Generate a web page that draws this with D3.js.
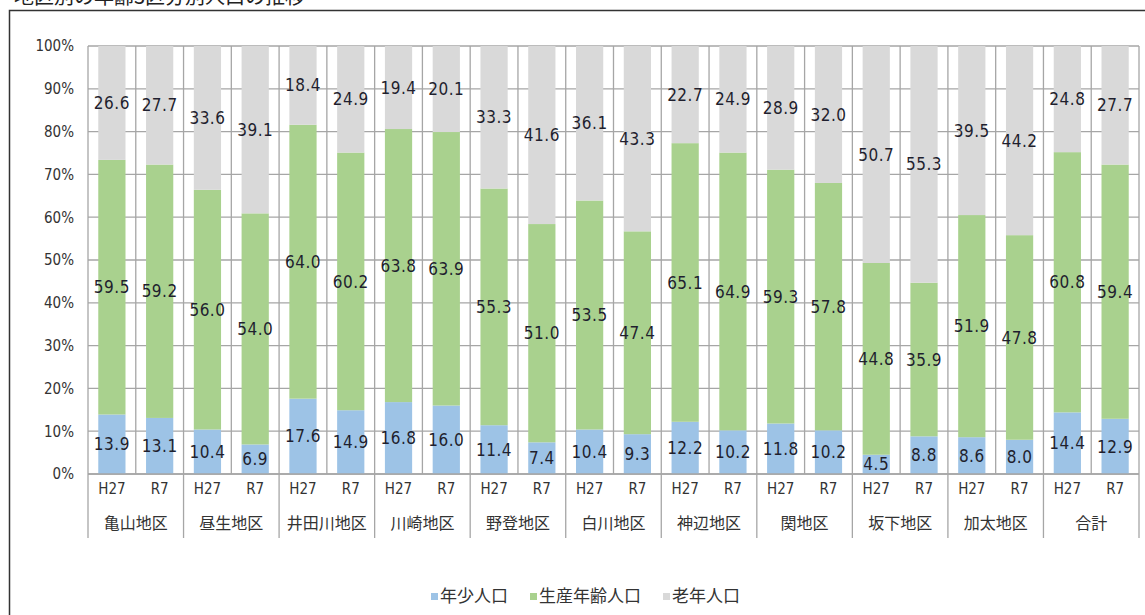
<!DOCTYPE html>
<html>
<head>
<meta charset="utf-8">
<script src="https://cdn.jsdelivr.net/npm/d3@7"></script>
<style>
  body { margin: 0; background: #fff; }
  svg { display: block; }
  .num { font-family: "Liberation Sans Narrow", "DejaVu Sans Condensed", sans-serif; font-stretch: condensed; }
  .jp { font-family: "Noto Sans CJK JP", "Noto Sans", sans-serif; }
</style>
</head>
<body>
<div id="chart"></div>
<script>
// données
var districts = ["亀山地区", "昼生地区", "井田川地区", "川崎地区", "野登地区", "白川地区", "神辺地区", "関地区", "坂下地区", "加太地区", "合計"];
var years = ["H27", "R7"];
var seriesNames = ["年少人口", "生産年齢人口", "老年人口"];
var young   = [13.9, 13.1, 10.4, 6.9, 17.6, 14.9, 16.8, 16.0, 11.4, 7.4, 10.4, 9.3, 12.2, 10.2, 11.8, 10.2, 4.5, 8.8, 8.6, 8.0, 14.4, 12.9];
var working = [59.5, 59.2, 56.0, 54.0, 64.0, 60.2, 63.8, 63.9, 55.3, 51.0, 53.5, 47.4, 65.1, 64.9, 59.3, 57.8, 44.8, 35.9, 51.9, 47.8, 60.8, 59.4];
var old     = [26.6, 27.7, 33.6, 39.1, 18.4, 24.9, 19.4, 20.1, 33.3, 41.6, 36.1, 43.3, 22.7, 24.9, 28.9, 32.0, 50.7, 55.3, 39.5, 44.2, 24.8, 27.7];
var yTicks = [0, 10, 20, 30, 40, 50, 60, 70, 80, 90, 100];

var colors = ["#9dc3e6", "#a9d18e", "#d9d9d9"];

var W = 1145, H = 615;
var plotLeft = 88, plotRight = 1139, plotTop = 46, plotBottom = 474;

// construction du tableau
var rows = [];
districts.forEach(function(d, i) {
  years.forEach(function(y, j) {
    var k = i * 2 + j;
    rows.push({ key: k, district: d, year: y, young: young[k], working: working[k], old: old[k] });
  });
});

var svg = d3.select("#chart").append("svg")
  .attr("width", W)
  .attr("height", H);

// titre coupé en haut + cadre
svg.append("text")
  .attr("class", "jp")
  .attr("x", 14).attr("y", 4)
  .attr("font-size", 20)
  .attr("fill", "#222")
  .text("地区別の年齢3区分別人口の推移");

svg.append("rect")
  .attr("x", 9.5).attr("y", 10.5)
  .attr("width", W + 20).attr("height", H + 20)
  .attr("fill", "none")
  .attr("stroke", "#333")
  .attr("stroke-width", 1.5);

var x = d3.scaleBand()
  .domain(rows.map(function(d) { return d.key; }))
  .range([plotLeft, plotRight])
  .paddingInner(0.43)
  .paddingOuter(0.215);

var step = (plotRight - plotLeft) / rows.length;

var y = d3.scaleLinear().domain([0, 100]).range([plotBottom, plotTop]);

// grille horizontale
svg.selectAll("line.hgrid").data(yTicks)
  .enter().append("line")
  .attr("class", "hgrid")
  .attr("x1", plotLeft).attr("x2", plotRight)
  .attr("y1", function(d) { return y(d); })
  .attr("y2", function(d) { return y(d); })
  .attr("stroke", "#a6a6a6")
  .attr("stroke-width", 1.3);

// grille verticale (entre chaque barre)
svg.selectAll("line.vgrid").data(d3.range(rows.length + 1))
  .enter().append("line")
  .attr("class", "vgrid")
  .attr("x1", function(i) { return plotLeft + i * step; })
  .attr("x2", function(i) { return plotLeft + i * step; })
  .attr("y1", plotTop).attr("y2", plotBottom)
  .attr("stroke", "#a6a6a6")
  .attr("stroke-width", 1.3);

// barres empilées
var stack = d3.stack().keys(["young", "working", "old"]);
var layers = stack(rows);

var g = svg.append("g");
layers.forEach(function(layer, li) {
  g.selectAll("rect.s" + li).data(layer)
    .enter().append("rect")
    .attr("x", function(d) { return x(d.data.key); })
    .attr("width", x.bandwidth())
    .attr("y", function(d) { return y(d[1]); })
    .attr("height", function(d) { return y(d[0]) - y(d[1]); })
    .attr("fill", colors[li]);
});

// étiquettes des valeurs
layers.forEach(function(layer, li) {
  g.selectAll("text.l" + li).data(layer)
    .enter().append("text")
    .attr("class", "num")
    .attr("x", function(d) { return x(d.data.key) + x.bandwidth() / 2; })
    .attr("y", function(d) { return y((d[0] + d[1]) / 2); })
    .attr("dy", "0.36em")
    .attr("text-anchor", "middle")
    .attr("font-size", 17)
    .attr("letter-spacing", 0.5)
    .attr("fill", "#1f1f2e")
    .text(function(d) { return (d[1] - d[0]).toFixed(1); });
});

// axe Y
svg.append("g")
  .attr("transform", "translate(" + plotLeft + ",0)")
  .call(d3.axisLeft(y).tickValues(yTicks).tickSize(0).tickPadding(14).tickFormat(function(d) { return d + "%"; }))
  .call(function(a) {
    a.select(".domain").remove();
    a.selectAll("text").attr("class", "num").attr("font-size", 15).attr("fill", "#333");
  });

// axe X : années
svg.append("g")
  .attr("transform", "translate(0," + plotBottom + ")")
  .call(d3.axisBottom(x).tickSize(0).tickPadding(9).tickFormat(function(k) { return rows[k].year; }))
  .call(function(a) {
    a.select(".domain").remove();
    a.selectAll("text").attr("class", "num").attr("font-size", 15).attr("fill", "#333");
  });

// séparateurs des districts
svg.selectAll("line.sep").data(d3.range(districts.length + 1))
  .enter().append("line")
  .attr("x1", function(i) { return plotLeft + i * 2 * step; })
  .attr("x2", function(i) { return plotLeft + i * 2 * step; })
  .attr("y1", plotBottom).attr("y2", 538)
  .attr("stroke", "#a6a6a6")
  .attr("stroke-width", 1.3);

svg.append("line")
  .attr("x1", plotLeft).attr("x2", plotRight)
  .attr("y1", plotBottom).attr("y2", plotBottom)
  .attr("stroke", "#a6a6a6")
  .attr("stroke-width", 1.3);

// noms des districts
svg.selectAll("text.district").data(districts)
  .enter().append("text")
  .attr("class", "jp")
  .attr("x", function(d, i) { return plotLeft + (i * 2 + 1) * step; })
  .attr("y", 529)
  .attr("text-anchor", "middle")
  .attr("font-size", 16)
  .attr("fill", "#333")
  .text(function(d) { return d; });

// légende
var legendX = [431, 530, 663];
var lg = svg.selectAll("g.leg").data(seriesNames)
  .enter().append("g")
  .attr("transform", function(d, i) { return "translate(" + legendX[i] + ",593)"; });
lg.append("rect")
  .attr("width", 7).attr("height", 7)
  .attr("fill", function(d, i) { return colors[i]; });
lg.append("text")
  .attr("class", "jp")
  .attr("x", 9).attr("y", 9)
  .attr("font-size", 17)
  .attr("fill", "#333")
  .text(function(d) { return d; });
</script>
</body>
</html>
